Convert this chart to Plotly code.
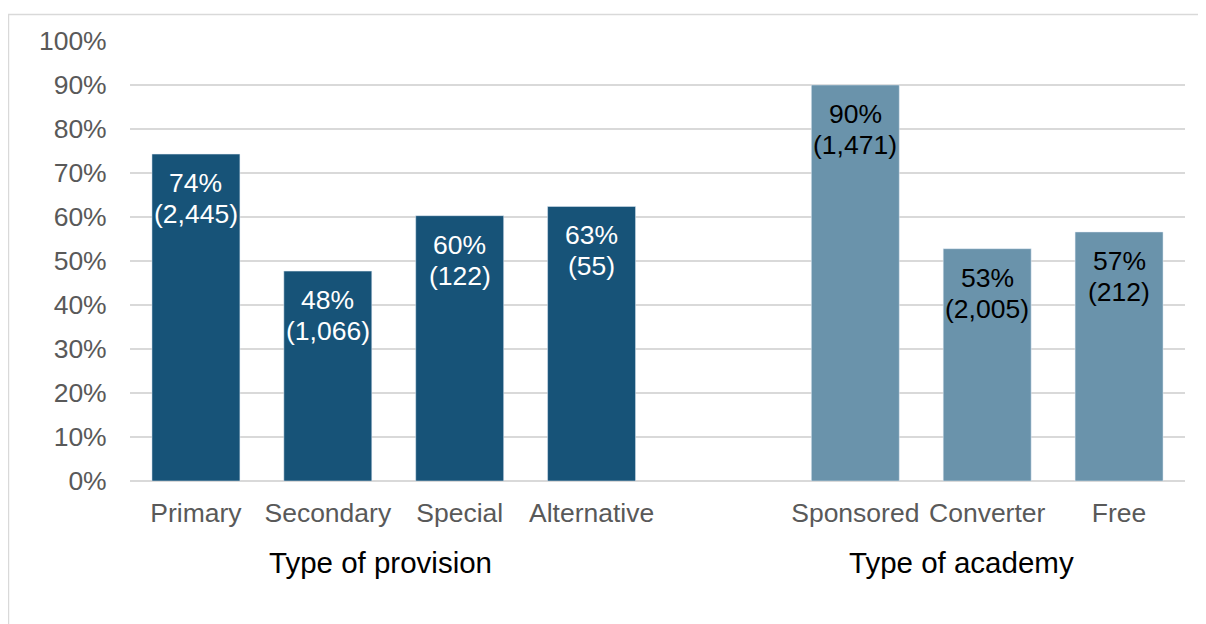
import plotly.graph_objects as go

# Data
categories = ["Primary", "Secondary", "Special", "Alternative", " ", "Sponsored", "Converter", "Free"]
provision_cats = ["Primary", "Secondary", "Special", "Alternative"]
provision_vals = [74.3, 47.7, 60.3, 62.4]
provision_counts = ["2,445", "1,066", "122", "55"]
provision_pct = ["74%", "48%", "60%", "63%"]

academy_cats = ["Sponsored", "Converter", "Free"]
academy_vals = [90.0, 52.8, 56.6]
academy_counts = ["1,471", "2,005", "212"]
academy_pct = ["90%", "53%", "57%"]

y_ticks = list(range(0, 101, 10))
y_tick_labels = [f"{v}%" for v in y_ticks]
group_titles = ["Type of provision", "Type of academy"]

DARK = "#175378"
LIGHT = "#6A93AB"
FONT = "Liberation Sans, Arial, sans-serif"
LBL = 26.5

fig = go.Figure()
fig.add_trace(go.Bar(x=provision_cats, y=provision_vals, marker_color=DARK,
                     width=0.667, hoverinfo="skip", showlegend=False))
fig.add_trace(go.Bar(x=[categories[4]], y=[None], marker_color=DARK,
                     width=0.667, hoverinfo="skip", showlegend=False))
fig.add_trace(go.Bar(x=academy_cats, y=academy_vals, marker_color=LIGHT,
                     width=0.667, hoverinfo="skip", showlegend=False))

annotations = []


def add_labels(cats, vals, pcts, counts, color):
    for c, v, p, n in zip(cats, vals, pcts, counts):
        annotations.append(dict(x=c, y=v, xref="x", yref="y", text=p,
                                showarrow=False, yanchor="top", yshift=-12,
                                font=dict(size=LBL, color=color, family=FONT)))
        annotations.append(dict(x=c, y=v, xref="x", yref="y", text=f"({n})",
                                showarrow=False, yanchor="top", yshift=-43,
                                font=dict(size=LBL, color=color, family=FONT)))


add_labels(provision_cats, provision_vals, provision_pct, provision_counts, "white")
add_labels(academy_cats, academy_vals, academy_pct, academy_counts, "black")

annotations.append(dict(x=0.237, y=-0.186, xref="paper", yref="paper", text=group_titles[0],
                        showarrow=False, xanchor="center", yanchor="middle",
                        font=dict(size=29.5, color="black", family=FONT)))
annotations.append(dict(x=0.788, y=-0.186, xref="paper", yref="paper", text=group_titles[1],
                        showarrow=False, xanchor="center", yanchor="middle",
                        font=dict(size=29.5, color="black", family=FONT)))

fig.update_layout(
    width=1198, height=616,
    margin=dict(l=122, r=21, t=33, b=143, pad=0),
    paper_bgcolor="white", plot_bgcolor="white",
    bargap=0.333,
    annotations=annotations,
    shapes=[dict(type="rect", xref="paper", yref="paper",
                 x0=-0.1152, x1=1.05, y0=-0.4, y1=1.0602,
                 line=dict(color="#D9D9D9", width=1.5), layer="below")],
    font=dict(family=FONT),
)
fig.update_xaxes(type="category", categoryorder="array", categoryarray=categories,
                 range=[-0.5, 7.5], showgrid=False, zeroline=False, showline=False,
                 ticks="outside", ticklen=8, tickcolor="rgba(0,0,0,0)",
                 tickfont=dict(size=26.5, color="#595959", family=FONT))
fig.update_yaxes(range=[0, 100], tickvals=y_ticks, ticktext=y_tick_labels,
                 showgrid=True, gridcolor="#D9D9D9", gridwidth=1.5,
                 zeroline=True, zerolinecolor="#D9D9D9", zerolinewidth=1.5,
                 showline=False, ticks="outside", ticklen=17, tickcolor="rgba(0,0,0,0)",
                 tickfont=dict(size=26.5, color="#595959", family=FONT))

fig.write_html("out.html")
